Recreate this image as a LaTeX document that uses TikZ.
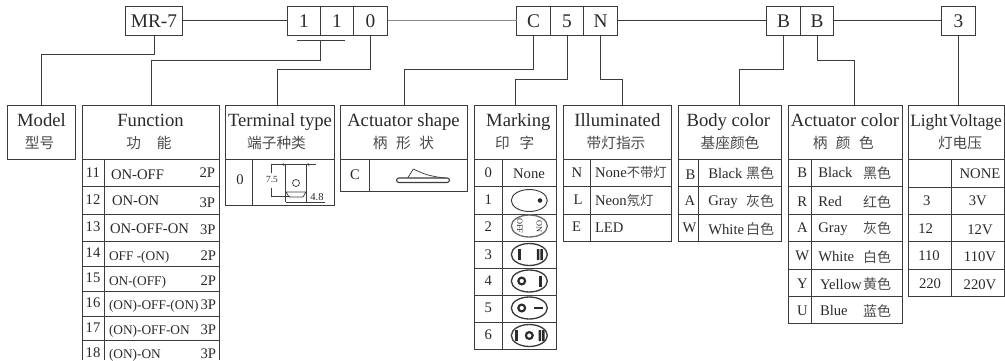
\documentclass[tikz,border=0pt]{standalone}
\usepackage{fontspec}
\setmainfont{Liberation Serif}
\newfontfamily\cjk{Noto Sans CJK SC}
\usetikzlibrary{calc}
\definecolor{ink}{HTML}{2A2A2A}
\definecolor{cjkink}{HTML}{4A4A4A}
\definecolor{rule}{HTML}{3C3C3C}
\newcount\tc
\newcommand{\tx}[4][]{\global\advance\tc by 1 \node[txt,#1] (t\the\tc) at (#2,#3) {#4};}
\newcommand{\cell}[7][]{\node[cellbox,#1,minimum width={(#5-#3)*0.75pt},minimum height={(#6-#4)*0.75pt}] (#2) at ({(#3+#5)/2},{(#4+#6)/2}) {#7};}
\newcommand{\gridlines}[5]{%
  \draw[gridline] (#1,159.5) rectangle (#2,#5);
  \draw[gridline] (#3,159.5) -- (#3,#5);
  \foreach \yy in {#4} {\draw[gridline] (#1,\yy) -- (#2,\yy);}}
\tikzset{
  txt/.style={inner sep=0pt,outer sep=0pt,text=ink,text height=7.3pt,text depth=0pt,font=\fontsize{11}{13}\selectfont},
  cellbox/.style={draw=rule,line width=0.8pt,inner sep=0pt,outer sep=0pt,text=ink,text height=9.6pt,text depth=0pt,font=\fontsize{14.5}{16}\selectfont},
  head/.style={anchor=base,font=\fontsize{14}{16}\selectfont},
  zh/.style={text=cjkink,text height=8.4pt,font=\cjk\fontsize{11}{13}\selectfont},
  zr/.style={text=cjkink,anchor=east,text height=8pt,font=\cjk\fontsize{10.5}{13}\selectfont},
  lb/.style={anchor=west},
  lp/.style={anchor=west,font=\fontsize{10}{12}\selectfont},
  rb/.style={anchor=east},
  gridline/.style={draw=rule,line width=0.8pt},
  wire/.style={draw=rule,line width=0.8pt},
  thin wire/.style={draw=rule!60,line width=0.8pt},
  fine/.style={draw=rule,line width=0.55pt},
  oval/.style={draw=rule,line width=1pt},
  bar/.style={fill=ink},
  ring/.style={draw=ink,line width=1.6pt},
  tiny/.style={text height=4.2pt,font=\fontsize{6.2}{8}\selectfont},
}
\begin{document}
\begin{tikzpicture}[x=0.75pt,y=-0.75pt]
\useasboundingbox (0,0) rectangle (1005,360);
\fill[white] (0,0) rectangle (1005,360);
% top code row
\cell{mr}{125.5}{6.5}{182.5}{35.5}{MR-7}
\cell{aa}{287.5}{6.5}{320.5}{35.5}{1}
\cell{ab}{320.5}{6.5}{353.5}{35.5}{1}
\cell{ac}{353.5}{6.5}{387.5}{35.5}{0}
\cell{ca}{516.5}{6.5}{550.5}{35.5}{C}
\cell{cb}{550.5}{6.5}{583.5}{35.5}{5}
\cell{cc}{583.5}{6.5}{617.5}{35.5}{N}
\cell{ba}{766.5}{6.5}{800.5}{35.5}{B}
\cell{bb}{800.5}{6.5}{833.5}{35.5}{B}
\cell{vv}{941.5}{6.5}{975.5}{35.5}{3}
% header boxes
\cell[head,anchor=center]{model}{7.5}{105.5}{75.5}{159.5}{}
\cell[head,anchor=center]{func}{82.5}{105.5}{219.5}{159.5}{}
\cell[head,anchor=center]{term}{225.5}{105.5}{334.5}{159.5}{}
\cell[head,anchor=center]{shape}{340.5}{105.5}{467.5}{159.5}{}
\cell[head,anchor=center]{mark}{474.5}{105.5}{556.5}{159.5}{}
\cell[head,anchor=center]{illu}{563.5}{105.5}{671.5}{159.5}{}
\cell[head,anchor=center]{body}{678.5}{105.5}{781.5}{159.5}{}
\cell[head,anchor=center]{acol}{788.5}{105.5}{902.5}{159.5}{}
\cell[head,anchor=center]{volt}{908.5}{105.5}{1004.5}{159.5}{}
% connectors
\coordinate (under) at ($(aa.south east)+(0,5)$);
\draw[wire] ($(aa.south west)+(9,5)$) -- ($(ac.south west)+(-8.5,5)$);
\draw[wire] ($(mr.east)+(0,-0.5)$) -- ($(aa.west)+(0,-0.5)$);
\draw[thin wire] ($(ac.east)+(0,-0.5)$) -- ($(ca.west)+(0,-0.5)$);
\draw[wire] ($(cc.east)+(0,-0.5)$) -- ($(ba.west)+(0,-0.5)$);
\draw[wire] ($(bb.east)+(0,-0.5)$) -- ($(vv.west)+(0,-0.5)$);
\draw[wire] ($(mr.south)+(0.5,0)$) -- ++(0,19) -| (model.north);
\draw[wire] (under) -- ++(0,20) -| ($(func.north)+(0.5,0)$);
\draw[wire] (ac.south) -- ++(0,34) -| ($(term.north)+(-2.5,0)$);
\draw[wire] (ca.south) -- ++(0,34) -| ($(shape.north)+(0.5,0)$);
\draw[wire] ($(cb.south)+(0.5,0)$) -- ++(0,44) -| (mark.north);
\draw[wire] (cc.south) -- ++(0,44) -| ($(illu.north)+(5,0)$);
\draw[wire] (ba.south) -- ++(0,34) -| ($(body.north)+(9.5,0)$);
\draw[wire] ($(bb.south)+(0.5,0)$) -- ++(0,25) -| ($(acol.north)+(9,0)$);
\draw[wire] (vv.south) -- ($(volt.north)+(2,0)$);
% tables
\draw[gridline] (82.5,159.5) -- (82.5,360) (219.5,159.5) -- (219.5,360) (104.5,159.5) -- (104.5,360);
\foreach \yy in {186.5,214.5,241.5,266.5,291.5,316.5,340.5} {\draw[gridline] (82.5,\yy) -- (219.5,\yy);}
\gridlines{225.5}{334.5}{252.5}{}{205.5}
\gridlines{340.5}{467.5}{369.5}{}{191.5}
\gridlines{474.5}{556.5}{502.5}{186.5,214.5,241.5,268.5,295.5,322.5}{349.5}
\gridlines{563.5}{671.5}{590.5}{186.5,214.5}{241.5}
\gridlines{678.5}{781.5}{698.5}{186.5,214.5}{241.5}
\gridlines{788.5}{902.5}{811.5}{186.5,214.5,241.5,269.5,296.5}{323.5}
\gridlines{908.5}{1004.5}{951.5}{187.5,214.5,241.5,269.5}{296.5}
% headers
\tx[head]{41.5}{126}{Model}
\tx[zh]{39.5}{142.5}{型号}
\tx[head]{150.5}{126}{Function}
\tx[zh]{149}{142.5}{功\hspace{12pt}能}
\tx[head]{280}{126}{Terminal type}
\tx[zh]{276.5}{142.5}{端子种类}
\tx[head]{403.5}{126}{Actuator shape}
\tx[zh]{403.5}{142.5}{柄\hspace{6.4pt}形\hspace{6.4pt}状}
\tx[head]{518.3}{126}{Marking}
\tx[zh]{514.7}{142.5}{印\hspace{7.5pt}字}
\tx[head]{617.3}{126}{Illuminated}
\tx[zh]{616}{142.5}{带灯指示}
\tx[head]{728.3}{126}{Body color}
\tx[zh]{730}{142.5}{基座颜色}
\tx[head]{845}{126}{Actuator color}
\tx[zh]{843.3}{142.5}{柄\hspace{6.4pt}颜\hspace{6.4pt}色}
\tx[head,font=\fontsize{13}{16}\selectfont]{956}{126}{\spaceskip=1pt Light Voltage}
\tx[zh]{960}{142.5}{灯电压}
% function rows
\tx{93}{173}{11} \tx[lb]{111}{175}{ON-OFF} \tx[rb]{215}{173}{2P}
\tx{93}{200}{12} \tx[lb]{112}{201}{ON-ON} \tx[rb]{215}{203}{3P}
\tx{93}{227}{13} \tx[lb]{110}{229}{ON-OFF-ON} \tx[rb]{215.5}{230}{3P}
\tx{93}{253}{14} \tx[lp]{109}{255.5}{OFF -(ON)} \tx[rb]{216}{256}{2P}
\tx{93}{278}{15} \tx[lp]{109}{281}{ON-(OFF)} \tx[rb]{216}{281}{2P}
\tx{93}{303}{16} \tx[lp]{109}{305}{(ON)-OFF-(ON)} \tx[rb]{216}{305}{3P}
\tx{93}{328}{17} \tx[lp]{109}{330}{(ON)-OFF-ON} \tx[rb]{216}{330}{3P}
\tx{93}{352.5}{18} \tx[lp]{109}{353.5}{(ON)-ON} \tx[rb]{216}{353.5}{3P}
% terminal
\tx{240}{180}{0}
\draw[fine] (285.5,164) -- (285.5,202) (306.5,164) -- (306.5,202);
\draw[fine] (271,164) -- (316,164) (271,164) -- (271,173) (271,188) -- (271,196) -- (290,196);
\draw[fine] (283,163) -- (284,166) (308,163) -- (309,166);
\draw[fine] (286,192) -- (306,192) (289,197) -- (303,197) (286,192) -- (289,197) (306,192) -- (303,197);
\draw[fine] (285.5,202) -- (325,202);
\draw[fine] (296,183) circle[radius=3.5];
\tx[tiny,font=\fontsize{7}{8}\selectfont]{272}{180}{7.5}
\tx[tiny,font=\fontsize{8}{9}\selectfont]{317}{197.5}{4.8}
% shape
\tx{355}{175}{C}
\draw[fine,line width=0.8pt,rounded corners=1.5pt] (396.7,178) rectangle (449.3,182.5);
\draw[fine] (407.7,178) -- (413.3,169) .. controls (420,172) and (426,176) .. (445,178);
% marking
\tx{488.3}{172.7}{0} \tx{529}{173.5}{None}
\tx{488.3}{200}{1} \tx{488.3}{226.7}{2} \tx{488.3}{254.3}{3}
\tx{488.3}{281}{4} \tx{488.3}{308}{5} \tx{488.3}{335}{6}
\draw[oval,line width=0.7pt] (529.3,200.5) ellipse[x radius=18,y radius=11];
\fill[bar] (540,200.5) circle[radius=2.3];
\draw[oval,draw=rule!75] (529.3,226) ellipse[x radius=18,y radius=11];
\tx[tiny,rotate=-90]{520}{226}{OFF}
\tx[tiny,rotate=-90]{539.3}{226}{ON}
\draw[oval] (529.3,254.5) ellipse[x radius=18,y radius=11];
\fill[bar] (517.5,249) rectangle (521,260);
\fill[bar] (536.8,249) rectangle (539.3,260) (540.3,249) rectangle (542.8,260);
\draw[oval] (529.3,281) ellipse[x radius=18,y radius=11];
\draw[ring] (521.7,281) circle[radius=3.4];
\fill[bar] (538.5,275.5) rectangle (541.5,286.5);
\draw[oval] (529.3,308) ellipse[x radius=18,y radius=11];
\draw[ring] (521.7,308) circle[radius=3.4];
\fill[bar] (534,306.7) rectangle (542.7,309.3);
\draw[oval] (529.3,335.5) ellipse[x radius=18,y radius=11];
\fill[bar] (515,330) rectangle (518.3,341);
\draw[ring] (529.3,335.5) circle[radius=3.4];
\fill[bar] (538.5,330) rectangle (541,341) (542,330) rectangle (544.5,341);
% illuminated
\tx{577}{172.7}{N} \tx[lb]{595}{173}{None{\cjk\fontsize{10}{12}\selectfont\color{cjkink}不带灯}}
\tx{578}{200}{L} \tx[lb]{595}{201}{Neon{\cjk\fontsize{10}{12}\selectfont\color{cjkink}氖灯}}
\tx{576.5}{227}{E} \tx[lb]{595}{228}{LED}
% body
\tx{690.5}{174.5}{B} \tx[lb]{708.3}{173.5}{Black} \tx[zr]{774}{173.5}{黑色}
\tx{690}{201}{A} \tx[lb]{708.3}{201}{Gray} \tx[zr]{774}{201}{灰色}
\tx{689.5}{228}{W} \tx[lb]{708.3}{229.5}{White} \tx[zr]{774}{229.5}{白色}
% actuator colour
\tx{802.3}{173}{B} \tx[lb]{818.3}{173}{Black} \tx[zr]{891}{173}{黑色}
\tx{802.3}{202}{R} \tx[lb]{818.3}{202}{Red} \tx[zr]{891}{202}{红色}
\tx{802.3}{228}{A} \tx[lb]{818.3}{228}{Gray} \tx[zr]{891}{228}{灰色}
\tx{802.3}{256}{W} \tx[lb]{818.3}{257}{White} \tx[zr]{891}{257}{白色}
\tx{802.3}{284}{Y} \tx[lb]{820}{284.5}{Yellow} \tx[zr]{891}{284.5}{黄色}
\tx{802.3}{310.5}{U} \tx[lb]{820}{311}{Blue} \tx[zr]{891}{311}{蓝色}
% voltage
\tx{980}{173.5}{NONE}
\tx{926.7}{201}{3} \tx{977.7}{201}{3V}
\tx{925.7}{229}{12} \tx{980}{230}{12V}
\tx{929}{256}{110} \tx{980}{257}{110V}
\tx{930}{284}{220} \tx{980}{284.5}{220V}
\end{tikzpicture}
\end{document}
